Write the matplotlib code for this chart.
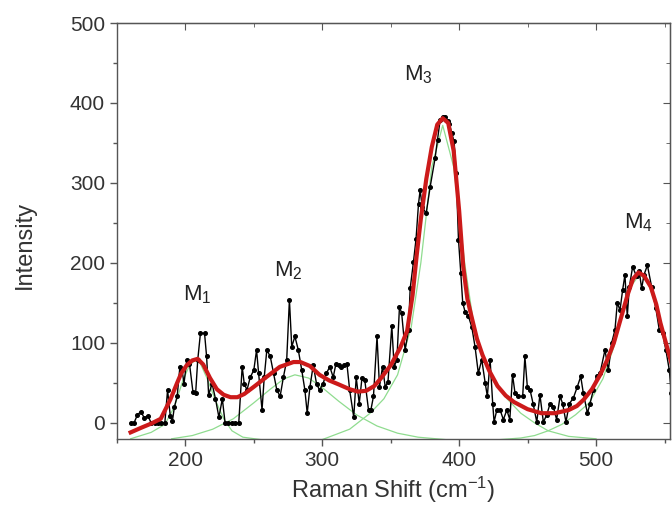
"""
Raman spectrum with peak fit (M1-M4).
"""

import matplotlib
matplotlib.use("Agg")
import matplotlib.pyplot as plt
from matplotlib.ticker import MultipleLocator

# measured spectrum (cm-1, intensity)
shift = [160, 162.5, 165, 167.5, 170, 172.5, 175, 177.5, 180, 182.5, 185,
         187, 189, 190.5, 192, 194, 196, 197.6, 199, 201, 203, 205.5, 207.5,
         209, 211, 214, 215.5, 217, 219.5, 222, 224.5, 227, 229, 231.5, 234,
         236.5, 239, 241.5, 243, 245, 247.4, 250, 252, 253.5, 256, 257.6,
         259.5, 262, 264.4, 266.8, 269.2, 271.6, 274, 276, 277.7, 280, 282.5,
         285, 287.3, 289, 291, 293.4, 295.8, 298, 300.6, 303, 305.5, 308, 310,
         312, 314, 316, 318, 320, 323, 324.8, 327, 329, 331, 333.8, 335.5,
         337.4, 340, 341.8, 344, 346, 348, 350.8, 352.5, 354.5, 356.4, 358,
         360.5, 363, 364.2, 366.6, 368.5, 370.3, 371.5, 373, 375.9, 378.8,
         382.4, 384.2, 386.1, 388, 389.7, 391.5, 392.9, 394.6, 396.3, 397.8,
         399.5, 401.2, 402.6, 404.3, 406.8, 409.2, 411.6, 414, 416.5, 419,
         420.6, 422.6, 424.5, 425.5, 427.5, 429.9, 432.3, 434.8, 437, 439,
         440.8, 443.3, 446.4, 448, 449.8, 451.8, 454, 456.7, 459, 461.5, 464,
         466.4, 468.8, 471.2, 473.7, 475.6, 478, 480.5, 483.4, 486.3, 488.8,
         490.7, 493.7, 495.6, 498, 500.4, 502.9, 506.5, 509, 511.4, 513.8,
         515.5, 517.5, 519.4, 521.1, 522.8, 524.3, 526.7, 529.6, 531.5, 533.3,
         535, 537.5, 540.6, 543.7, 546.2, 548.6, 551, 553.5, 555]
intensity = [0, 0, 10, 14, 6, 9, 0, 0, 0, 0, 0,
             41, 8, 2, 20, 33, 70, 66, 49, 78, 74, 39, 37,
             78, 112, 112, 83, 35, 49, 30, 7, 30, 0, 0, 0,
             0, 0, 70, 49, 41, 57, 66, 91, 62, 16, 57,
             91, 83, 62, 41, 33, 57, 78, 154, 95, 108, 91,
             66, 41, 12, 45, 72, 49, 41, 49, 62, 70, 57, 74,
             72, 70, 72, 74, 41, 7, 57, 24, 56, 54, 16, 16,
             33, 108, 45, 70, 45, 51, 121, 70, 79, 145, 137,
             91, 116, 168, 201, 230, 274, 291, 270, 262, 295,
             331, 354, 379, 383, 382, 378, 374, 362, 352, 312,
             229, 187, 150, 139, 133, 120, 95, 62, 79, 50,
             33, 79, 24, 1, 16, 16, 4, 16, 4, 60,
             37, 33, 33, 83, 45, 41, 24, 1, 35, 1, 10,
             24, 20, 4, 33, 24, 1, 24, 31, 45, 58,
             37, 12, 24, 41, 58, 62, 91, 66, 100, 116,
             150, 141, 166, 185, 133, 170, 195, 183, 190, 168,
             185, 197, 170, 143, 116, 112, 91, 66, 37]

# cumulative fit (red)
fit_x = [160, 168, 175, 182, 189, 194, 197, 201, 205, 209, 213, 218, 223,
         228, 233, 238, 243, 250, 259, 269, 279, 284, 291, 298, 305, 312,
         320, 326, 332, 338, 343, 350, 357, 362, 366, 369, 372, 376, 380,
         384, 388, 392, 396, 400, 403, 406, 409, 413, 417, 422, 428, 434,
         440, 450, 460, 470, 480, 486, 491, 497, 503, 508, 513, 518, 523,
         527, 531, 535, 540, 544, 547, 551, 555]
fit_y = [-12, -6, -1, 5, 29, 50, 62, 72, 78, 80, 73, 56, 42,
         35, 32, 32, 36, 45, 57, 70, 76, 76, 71, 60, 53, 48,
         42, 39, 40, 46, 56, 72, 94, 115, 160, 210, 255, 305, 345,
         373, 381, 375, 340, 265, 195, 155, 133, 105, 85, 65, 46, 34,
         26, 17, 12, 12, 16, 21, 29, 42, 60, 78, 100, 130, 160,
         180, 188, 184, 170, 148, 125, 100, 75]

# fitted components (green)
m1_x = [160, 175, 185, 192, 198, 203, 207, 211, 216, 222, 228, 234, 242, 255]
m1_y = [-20, -12, -2, 20, 52, 72, 78, 74, 55, 28, 5, -10, -18, -21]
m2_x = [190, 205, 220, 235, 250, 262, 272, 280, 290, 300, 312, 325, 340,
        355, 370, 390]
m2_y = [-20, -16, -8, 5, 25, 42, 55, 60, 56, 44, 27, 10, -4, -13, -18, -21]
m3_x = [300, 320, 335, 345, 355, 365, 372, 380, 388, 396, 404, 410, 416,
        425, 435, 445, 455, 465, 480, 500]
m3_y = [-21, -8, 12, 30, 60, 120, 200, 320, 372, 320, 200, 130, 88,
        55, 30, 12, 0, -10, -17, -20]
m4_x = [430, 445, 455, 465, 475, 485, 495, 505, 513, 520, 526, 532, 538,
        544, 550, 556]
m4_y = [-21, -19, -16, -10, -2, 10, 25, 55, 95, 140, 172, 186, 175,
        145, 105, 65]

peak_names = ["M$_1$", "M$_2$", "M$_3$", "M$_4$"]
peak_label_x = [209, 275, 370, 531]
peak_label_y = [160, 190, 436, 250]

plt.rcParams["font.family"] = ["Liberation Sans", "DejaVu Sans"]
plt.rcParams["mathtext.default"] = "regular"

fig = plt.figure(figsize=(6.72, 5.12), dpi=100)
ax = fig.add_axes([0.174, 0.143, 0.823, 0.812])

green = "#8fdc8f"
for gx, gy in [(m1_x, m1_y), (m2_x, m2_y), (m3_x, m3_y), (m4_x, m4_y)]:
    ax.plot(gx, gy, color=green, lw=0.9, zorder=1)

ax.plot(shift, intensity, color="black", lw=1.0, marker="o", ms=2.6, zorder=2)
ax.plot(fit_x, fit_y, color="#cc1a1a", lw=3.0, zorder=3)

for name, lx, ly in zip(peak_names, peak_label_x, peak_label_y):
    ax.text(lx, ly, name, fontsize=16, color="#222222", ha="center", va="center")

ax.set_xlim(150, 554)
ax.set_ylim(-20, 500)
ax.xaxis.set_major_locator(MultipleLocator(100))
ax.xaxis.set_minor_locator(MultipleLocator(50))
ax.yaxis.set_major_locator(MultipleLocator(100))
ax.yaxis.set_minor_locator(MultipleLocator(50))

axis_col = "#555555"
for sp in ax.spines.values():
    sp.set_color(axis_col)
    sp.set_linewidth(1.0)
ax.tick_params(which="both", direction="out", colors=axis_col,
               labelcolor="#333333", labelsize=15)
ax.tick_params(which="major", length=5, width=1)
ax.tick_params(which="minor", length=3, width=1)

# mirrored ticks on top and right, pointing inward, no labels
top = ax.secondary_xaxis("top")
top.xaxis.set_major_locator(MultipleLocator(100))
top.xaxis.set_minor_locator(MultipleLocator(50))
top.tick_params(which="both", direction="in", labeltop=False, colors=axis_col)
top.tick_params(which="major", length=5)
top.tick_params(which="minor", length=3)
right = ax.secondary_yaxis("right")
right.yaxis.set_major_locator(MultipleLocator(100))
right.yaxis.set_minor_locator(MultipleLocator(50))
right.tick_params(which="both", direction="in", labelright=False, colors=axis_col)
right.tick_params(which="major", length=5)
right.tick_params(which="minor", length=3)

ax.set_xlabel("Raman Shift (cm$^{-1}$)", fontsize=17, color="#333333", labelpad=4)
ax.set_ylabel("Intensity", fontsize=17, color="#333333")
ax.yaxis.set_label_coords(-0.146, 0.466)

fig.savefig("out.png", dpi=100)
